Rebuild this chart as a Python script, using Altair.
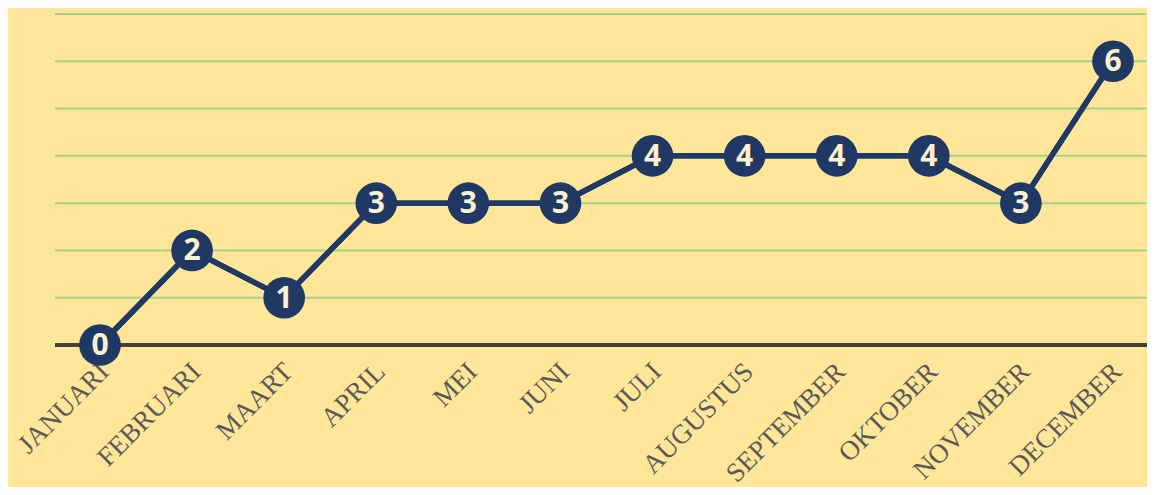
import altair as alt
import pandas as pd

maanden = ["JANUARI", "FEBRUARI", "MAART", "APRIL", "MEI", "JUNI", "JULI",
           "AUGUSTUS", "SEPTEMBER", "OKTOBER", "NOVEMBER", "DECEMBER"]
waarden = [0, 2, 1, 3, 3, 3, 4, 4, 4, 4, 3, 6]
rasterlijnen = [1, 2, 3, 4, 5, 6, 7]

df = pd.DataFrame({"maand": maanden, "waarde": waarden})
grid_df = pd.DataFrame({"raster": rasterlijnen})

BG = "#FFE699"
NAVY = "#1F3864"

x = alt.X("maand:N", sort=maanden,
          scale=alt.Scale(type="point", range=[45, 1058]),
          axis=alt.Axis(title=None, labelAngle=315, domain=False, ticks=False,
                        grid=False, labelFont="Liberation Serif", labelFontSize=27,
                        labelColor="#595959", labelPadding=13, labelOffset=-5))
yscale = alt.Scale(domain=[0, 7], nice=False, zero=True)
y = alt.Y("waarde:Q", scale=yscale,
          axis=alt.Axis(title=None, labels=False, ticks=False, domain=False, grid=False))

base = alt.Chart(df)

grid = alt.Chart(grid_df).mark_rule(color="#A9D18E", strokeWidth=2).encode(
    y=alt.Y("raster:Q", scale=yscale))
rule = base.mark_rule(color="#404040", strokeWidth=3).encode(y=alt.datum(0))
line = base.mark_line(color=NAVY, strokeWidth=5.5).encode(x=x, y=y)
pts = base.mark_circle(color=NAVY, opacity=1, size=1735).encode(x=x, y=y)
txt = base.mark_text(color="#FDF2D0", font="Open Sans", fontWeight="bold",
                     fontSize=30, baseline="middle", align="center", dy=1).encode(
    x=x, y=y, text="waarde:Q")

chart = alt.layer(line, grid, rule, line, pts, txt).properties(
    width=1092, height=331,
    autosize=alt.AutoSizeParams(type="none"),
    padding={"left": 47, "top": 6, "right": 0, "bottom": 142},
    background=BG,
).configure_view(stroke=None).configure_scale(pointPadding=0)

chart.save("out.html", embed_options={"renderer": "svg", "actions": False})
